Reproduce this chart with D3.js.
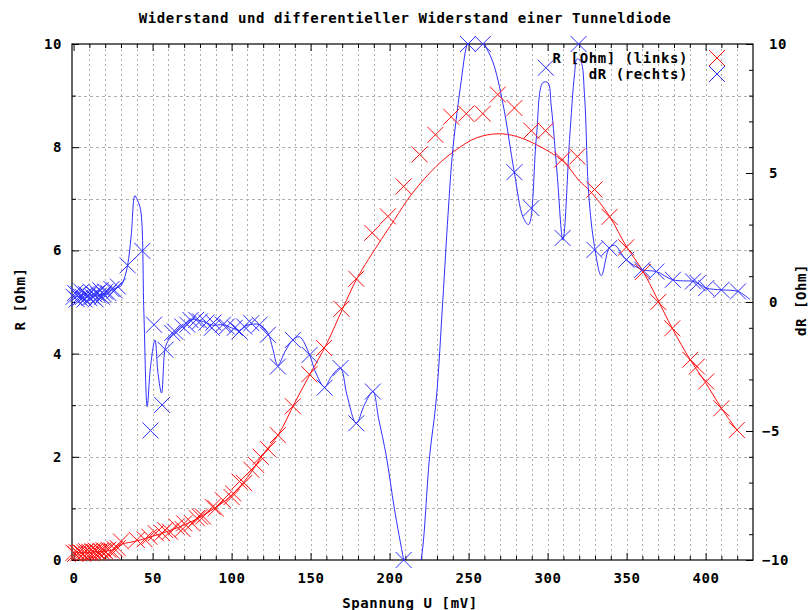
<!DOCTYPE html>
<html>
<head>
<meta charset="utf-8">
<script src="https://cdn.jsdelivr.net/npm/d3@7"></script>
<style>
  body { margin: 0; background: #fff; }
  text { font-family: "DejaVu Sans Mono", monospace; font-weight: bold; font-size: 14px; letter-spacing: 0.6px; fill: #000; }
</style>
</head>
<body>
<div id="chart"></div>
<script>
// Messpunkte R [Ohm] (linke Achse)
const rPoints = [
  [0,0.14],[1,0.12],[2,0.15],[3,0.13],[4,0.16],[5,0.14],[6,0.12],[7,0.15],[8,0.17],[9,0.14],
  [10,0.16],[11,0.13],[12,0.17],[13,0.15],[14,0.18],[15,0.16],[16,0.14],[17,0.18],[18,0.16],[19,0.19],
  [20,0.17],[22,0.2],[24,0.18],[26,0.21],[28,0.23],
  [30,0.36],[40,0.39],[45,0.4],[48,0.45],[52,0.52],[56,0.52],[58,0.58],[61,0.55],[65,0.65],[69,0.6],
  [70,0.71],[75,0.71],[78,0.81],[80,0.84],[82,0.84],[88,1.03],[90,1.0],[94.5,1.16],[100,1.22],[101,1.29],
  [105,1.52],[108,1.49],[112.5,1.75],[115.6,1.84],[118.5,2.0],[123,2.15],[129.3,2.42],[138.8,2.98],
  [149.2,3.6],[158.5,4.11],[169.5,4.87],[178.9,5.45],[189,6.34],[198.9,6.66],[208.9,7.24],[219,7.86],
  [229,8.24],[239,8.59],[248.5,8.65],[259,8.65],[268.5,9.02],[279,8.76],[289.7,8.32],[298.7,8.32],
  [309.2,7.76],[318.8,7.82],[329.7,7.18],[339.2,6.65],[349.8,6.06],[360.3,5.58],[370,5.0],[378.9,4.49],
  [390.3,3.88],[394.5,3.75],[400.4,3.46],[410,2.94],[419.8,2.52]
];

// Geglaettete Kurve R
const rCurve = [
  [0,0.15],[5,0.14],[10,0.15],[15,0.16],[20,0.17],[25,0.2],[30,0.3],[40,0.37],[50,0.46],[60,0.56],
  [70,0.68],[80,0.83],[90,1.02],[100,1.25],[110,1.6],[120,2.05],[130,2.45],[140,3.05],[150,3.62],
  [160,4.18],[170,4.85],[178.9,5.43],[186.5,5.82],[194.7,6.21],[203.2,6.6],[213.7,7.08],[229.5,7.63],
  [242.2,7.95],[254.9,8.18],[268.6,8.26],[280.2,8.21],[292.8,8.05],[309.7,7.73],[320.3,7.34],
  [326.6,7.16],[339.2,6.66],[349.8,6.08],[360.3,5.6],[368.8,5.1],[378.9,4.49],[390.3,3.88],
  [400.4,3.42],[410,2.94],[419.8,2.52]
];

// Messpunkte dR (rechte Achse)
const dRPoints = [
  [0,0.2],[1,0.35],[2,0.1],[3,0.3],[4,0.15],[5,0.4],[6,0.2],[7,0.1],[8,0.3],[9,0.25],
  [10,0.15],[11,0.4],[12,0.2],[13,0.3],[14,0.1],[15,0.35],[16,0.25],[17,0.45],[18,0.2],[19,0.3],
  [20,0.4],[22,0.35],[24,0.5],[26,0.45],[28,0.6],
  [34.2,1.42],[43.5,1.98],[48.7,-4.98],[50.9,-0.88],[56,-3.99],[58.2,-1.85],[62.4,-1.2],[64.3,-1.15],
  [68.8,-0.95],[72,-0.88],[74,-0.7],[77.6,-0.69],[80,-0.75],[84,-0.8],[87.5,-1.0],[88.5,-0.8],
  [94.5,-0.88],[97,-0.95],[102,-1.0],[105,-1.14],[108,-0.95],[112.5,-0.82],[117.7,-0.88],[123,-1.27],
  [129.3,-2.5],[138.8,-1.47],[149.4,-2.05],[158.9,-3.32],[169,-2.56],[178.9,-4.7],[189.4,-3.47],
  [208.9,-10],[249.6,10],[259,10],[279,5.03],[289.7,3.64],[298.9,9.08],[309.5,2.48],[319.6,10],
  [329.7,2.02],[339,2.09],[349.8,1.64],[360,1.25],[368.8,1.18],[379.3,0.86],[392,0.8],[395,0.73],
  [400.4,0.54],[410,0.47],[420.5,0.41]
];

// Spline-Kurve dR
const dRCurve = [
  [0,0.25],[3,0.2],[6,0.3],[9,0.2],[12,0.3],[15,0.25],[18,0.3],[21,0.3],[24,0.45],[27,0.55],
  [29.7,0.6],[31.8,0.86],[34.2,1.42],[36.5,2.6],[38.8,4.12],[40.3,3.96],[42.4,3.58],[44.5,-0.43],
  [46.6,-4.05],[48.7,-2.5],[51.5,-1.47],[53.5,-2.8],[55.7,-3.53],[58.2,-1.73],[61,-1.4],[64.6,-1.2],
  [68.8,-0.95],[74,-0.7],[77.6,-0.69],[84,-0.8],[88,-0.9],[94.5,-0.88],[100,-1.0],[105,-1.1],
  [110,-0.9],[117.7,-0.88],[123,-1.2],[126,-1.8],[129.3,-2.45],[134,-1.9],[138.8,-1.47],[143,-1.35],
  [149.4,-2.05],[153,-2.7],[158.9,-3.3],[163,-2.9],[168.8,-2.56],[173,-3.6],[178.9,-4.7],[184,-4.0],
  [189.4,-3.47],[193,-4.5],[198,-6.0],[203,-8.0],[208.9,-10],[212,-11],[216,-11],[220,-10],
  [225.3,-6.0],[229.5,-3.8],[233.7,0.08],[237,3.4],[240,5.9],[245.4,8.6],[249,10],[254,10.8],
  [260,10],[265.4,9.3],[271.7,7.7],[279,5.0],[284.4,3.3],[288,3.0],[292.8,6.3],[297,8.5],[300.2,8.5],
  [302.3,7.6],[306,5.0],[309.7,2.4],[313.9,6.3],[317,8.8],[318.6,9.42],[321,9.33],[323.4,7.97],
  [326,4.2],[329.7,2.15],[334,1.02],[339,2.09],[342.4,2.2],[349.8,1.64],[360,1.25],[368.8,1.18],
  [379.3,0.86],[392,0.8],[395,0.73],[400.4,0.54],[410,0.47],[420.5,0.41],[428,0.1]
];

// Achsen-Ticks
const xMajor = [0, 50, 100, 150, 200, 250, 300, 350, 400];
const xMinor = d3.range(10, 430, 10).filter(v => v % 50 !== 0);
const yMajor = [0, 2, 4, 6, 8, 10];
const yMinor = [1, 3, 5, 7, 9];
const y2Major = [-10, -5, 0, 5, 10];
const y2Minor = d3.range(-9, 10, 1).filter(v => v % 5 !== 0);
const xGrid = d3.range(10, 430, 10);
const yGrid = d3.range(1, 10, 1);

const redColor = '#ff1010';
const blueColor = '#3030ff';

const margin = { top: 44, right: 57, bottom: 50, left: 72 };
const width = 810 - margin.left - margin.right;
const height = 610 - margin.top - margin.bottom;

const root = d3.select('#chart')
  .append('svg')
  .attr('width', 810)
  .attr('height', 610);

const svg = root.append('g')
  .attr('transform', `translate(${margin.left},${margin.top})`);

const x = d3.scaleLinear().domain([-1, 430]).range([0, width]);
const y = d3.scaleLinear().domain([0, 10]).range([height, 0]);
const y2 = d3.scaleLinear().domain([-10, 10]).range([height, 0]);

// Gitter
svg.append('g').selectAll('line')
  .data(xGrid)
  .enter().append('line')
  .attr('x1', d => Math.round(x(d)) + 0.5).attr('x2', d => Math.round(x(d)) + 0.5)
  .attr('y1', 0).attr('y2', height)
  .attr('stroke', '#b0b0b0').attr('stroke-dasharray', '2,3');

svg.append('g').selectAll('line')
  .data(yGrid)
  .enter().append('line')
  .attr('y1', d => Math.round(y(d)) + 0.5).attr('y2', d => Math.round(y(d)) + 0.5)
  .attr('x1', 0).attr('x2', width)
  .attr('stroke', '#b0b0b0').attr('stroke-dasharray', '3,3');

// Achsen (Ticks nach innen)
function styleAxis(g) {
  g.select('.domain').remove();
  g.selectAll('line').attr('stroke', '#000');
  g.selectAll('text').style('font-family', '"DejaVu Sans Mono", monospace')
    .style('font-size', '14px').style('font-weight', 'bold');
}

svg.append('g')
  .attr('transform', `translate(0,${height})`)
  .call(d3.axisBottom(x).tickValues(xMajor).tickSize(-7).tickPadding(13))
  .call(styleAxis);
svg.append('g')
  .attr('transform', `translate(0,${height})`)
  .call(d3.axisBottom(x).tickValues(xMinor).tickSize(-4).tickFormat(''))
  .call(styleAxis);
svg.append('g')
  .call(d3.axisTop(x).tickValues(xMajor).tickSize(-7).tickFormat(''))
  .call(styleAxis);
svg.append('g')
  .call(d3.axisTop(x).tickValues(xMinor).tickSize(-4).tickFormat(''))
  .call(styleAxis);

svg.append('g')
  .call(d3.axisLeft(y).tickValues(yMajor).tickSize(-7).tickPadding(10))
  .call(styleAxis);
svg.append('g')
  .call(d3.axisLeft(y).tickValues(yMinor).tickSize(-4).tickFormat(''))
  .call(styleAxis);

const rightAxis = svg.append('g')
  .attr('transform', `translate(${width},0)`)
  .call(d3.axisRight(y2).tickValues(y2Major).tickSize(-7).tickPadding(16))
  .call(styleAxis);
rightAxis.selectAll('text').attr('x', d => d < 0 ? 9 : 16);
svg.append('g')
  .attr('transform', `translate(${width},0)`)
  .call(d3.axisRight(y2).tickValues(y2Minor).tickSize(-4).tickFormat(''))
  .call(styleAxis);

// Rahmen
svg.append('rect')
  .attr('x', 0).attr('y', 0)
  .attr('width', width).attr('height', height)
  .attr('fill', 'none').attr('stroke', '#000').attr('stroke-width', 1.2);

// Linien (auf Plotbereich beschnitten)
svg.append('clipPath').attr('id', 'plot-clip')
  .append('rect').attr('width', width).attr('height', height);

const plot = svg.append('g').attr('clip-path', 'url(#plot-clip)');

const rLine = d3.line()
  .x(d => x(d[0])).y(d => y(d[1]))
  .curve(d3.curveCatmullRom.alpha(0.5));
const dRLine = d3.line()
  .x(d => x(d[0])).y(d => y2(d[1]))
  .curve(d3.curveCatmullRom.alpha(0.5));

plot.append('path')
  .datum(rCurve)
  .attr('d', rLine)
  .attr('fill', 'none').attr('stroke', redColor).attr('stroke-width', 1);

plot.append('path')
  .datum(dRCurve)
  .attr('d', dRLine)
  .attr('fill', 'none').attr('stroke', blueColor).attr('stroke-width', 1);

// Kreuz-Marker
const cross = 'M-8,-8L8,8M-8,8L8,-8';

svg.append('g').selectAll('path')
  .data(rPoints)
  .enter().append('path')
  .attr('transform', d => `translate(${x(d[0])},${y(d[1])})`)
  .attr('d', cross)
  .attr('fill', 'none').attr('stroke', redColor).attr('stroke-width', 1);

svg.append('g').selectAll('path')
  .data(dRPoints)
  .enter().append('path')
  .attr('transform', d => `translate(${x(d[0])},${y2(d[1])})`)
  .attr('d', cross)
  .attr('fill', 'none').attr('stroke', blueColor).attr('stroke-width', 1);

// Legende
const legendItems = [
  { label: 'R [Ohm] (links)', color: redColor },
  { label: 'dR (rechts)', color: blueColor }
];
const legend = root.append('g');
legendItems.forEach((item, i) => {
  const ly = 58 + i * 16;
  legend.append('text')
    .attr('x', 688).attr('y', ly).attr('dy', '0.35em')
    .attr('text-anchor', 'end')
    .text(item.label);
  legend.append('path')
    .attr('transform', `translate(717,${ly})`)
    .attr('d', cross)
    .attr('fill', 'none').attr('stroke', item.color).attr('stroke-width', 1);
});

// Titel und Achsenbeschriftungen
root.append('text')
  .attr('x', 405).attr('y', 23)
  .attr('text-anchor', 'middle')
  .text('Widerstand und differentieller Widerstand einer Tunneldiode');

root.append('text')
  .attr('x', 410).attr('y', 608)
  .attr('text-anchor', 'middle')
  .text('Spannung U [mV]');

root.append('text')
  .attr('transform', 'translate(20,299) rotate(-90)')
  .attr('dy', '0.35em')
  .attr('text-anchor', 'middle')
  .text('R [Ohm]');

root.append('text')
  .attr('transform', 'translate(801,300) rotate(-90)')
  .attr('dy', '0.35em')
  .attr('text-anchor', 'middle')
  .text('dR [Ohm]');
</script>
</body>
</html>
